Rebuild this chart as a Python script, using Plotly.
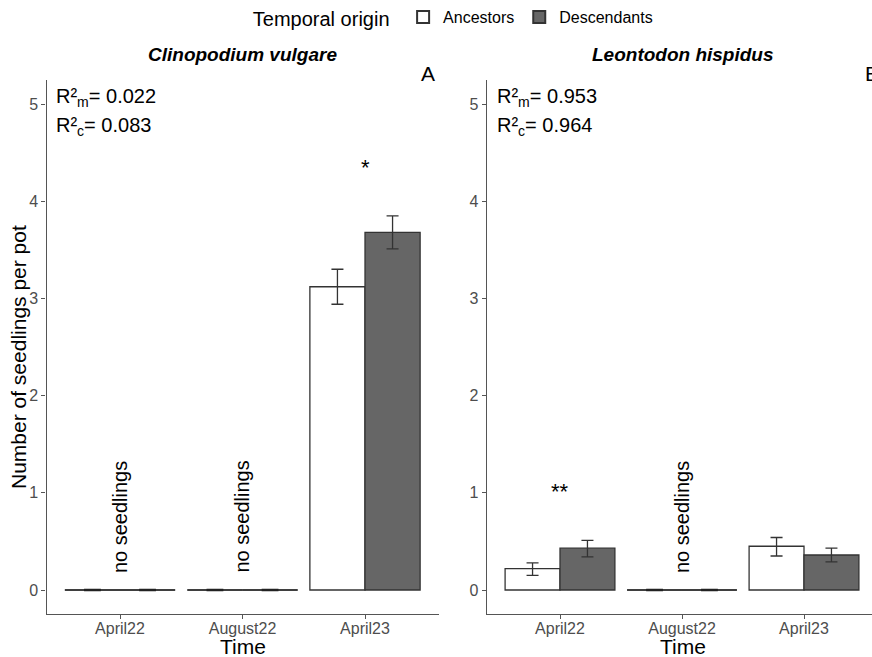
import plotly.graph_objects as go

categories = ["April22", "August22", "April23"]
cat_pos = [1, 2, 3]

# Clinopodium vulgare
clino_anc = [0.0, 0.0, 3.12]
clino_anc_hi = [0.0, 0.0, 3.30]
clino_anc_lo = [0.0, 0.0, 2.94]
clino_desc = [0.0, 0.0, 3.68]
clino_desc_hi = [0.0, 0.0, 3.85]
clino_desc_lo = [0.0, 0.0, 3.51]

# Leontodon hispidus
leon_anc = [0.22, 0.0, 0.45]
leon_anc_hi = [0.28, 0.0, 0.54]
leon_anc_lo = [0.15, 0.0, 0.35]
leon_desc = [0.43, 0.0, 0.36]
leon_desc_hi = [0.51, 0.0, 0.43]
leon_desc_lo = [0.34, 0.0, 0.29]

panel_titles = ["Clinopodium vulgare", "Leontodon hispidus"]
panel_letters = ["A", "B"]
r2m = ["0.022", "0.953"]
r2c = ["0.083", "0.964"]
signif = [{"April23": "*"}, {"April22": "**"}]
y_ticks = [0, 1, 2, 3, 4, 5]

FONT = "Liberation Sans, Arial, sans-serif"
OUTLINE = "#333333"
DESC_FILL = "#666666"
AXIS_COL = "#555555"
TICK_COL = "#4d4d4d"
BW = 0.45

fig = go.Figure()

panels = [
    ("x", "y", clino_anc, clino_anc_hi, clino_anc_lo, clino_desc, clino_desc_hi, clino_desc_lo),
    ("x2", "y2", leon_anc, leon_anc_hi, leon_anc_lo, leon_desc, leon_desc_hi, leon_desc_lo),
]

for pi, (xa, ya, anc, anc_hi, anc_lo, desc, desc_hi, desc_lo) in enumerate(panels):
    for name, vals, hi, lo, fill, off in [
        ("Ancestors", anc, anc_hi, anc_lo, "white", -BW / 2),
        ("Descendants", desc, desc_hi, desc_lo, DESC_FILL, BW / 2),
    ]:
        fig.add_trace(go.Bar(
            x=[p + off for p in cat_pos], y=vals, width=BW, name=name,
            marker=dict(color=fill, line=dict(color=OUTLINE, width=1.3)),
            error_y=dict(type="data", symmetric=False,
                         array=[h - v for h, v in zip(hi, vals)],
                         arrayminus=[v - l for v, l in zip(vals, lo)],
                         color=OUTLINE, thickness=1.3, width=6),
            showlegend=(pi == 0), legendgroup=name,
            xaxis=xa, yaxis=ya,
        ))
    # zero-height groups drawn as a baseline + no seedlings label
    for p, c, a, d in zip(cat_pos, categories, anc, desc):
        if a == 0 and d == 0:
            fig.add_trace(go.Scatter(
                x=[p - BW, p + BW], y=[0, 0], mode="lines",
                line=dict(color=OUTLINE, width=1.3), showlegend=False,
                hoverinfo="skip", xaxis=xa, yaxis=ya))
            fig.add_trace(go.Scatter(
                x=[p - BW / 2, p + BW / 2], y=[0, 0], mode="markers",
                marker=dict(symbol="line-ew", size=12,
                            line=dict(color="#222222", width=2.6)),
                showlegend=False, hoverinfo="skip", xaxis=xa, yaxis=ya))
            fig.add_annotation(
                x=p, y=0.75, xref=xa, yref=ya, text="no seedlings",
                textangle=-90, showarrow=False,
                font=dict(family=FONT, size=20, color="black"))
    for c, s in signif[pi].items():
        p = cat_pos[categories.index(c)]
        top = max(anc_hi[categories.index(c)], desc_hi[categories.index(c)])
        fig.add_annotation(
            x=p, y=top + 0.50, xref=xa, yref=ya, text=s, showarrow=False,
            font=dict(family=FONT, size=22, color="black"))

    dom = "x domain" if pi == 0 else "x2 domain"
    ydom = "y domain" if pi == 0 else "y2 domain"
    fig.add_annotation(x=0.02, y=0.966, xref=dom, yref=ydom, xanchor="left",
                       yanchor="middle", showarrow=False,
                       text=f"R\u00b2<sub>m</sub>= {r2m[pi]}",
                       font=dict(family=FONT, size=20, color="black"))
    fig.add_annotation(x=0.02, y=0.912, xref=dom, yref=ydom, xanchor="left",
                       yanchor="middle", showarrow=False,
                       text=f"R\u00b2<sub>c</sub>= {r2c[pi]}",
                       font=dict(family=FONT, size=20, color="black"))
    # x axis title
    fig.add_annotation(x=0.5 if pi == 0 else (683 - 486.8) / (872 - 486.8),
                       y=1 - 646 / 657, xref=dom, yref="paper",
                       xanchor="center", yanchor="middle", showarrow=False,
                       text="Time",
                       font=dict(family=FONT, size=21, color="black"))

# y axis title
fig.add_annotation(x=18 / 872, y=1 - 357 / 657, xref="paper", yref="paper",
                   xanchor="center", yanchor="middle",
                   textangle=-90, showarrow=False,
                   text="Number of seedlings per pot",
                   font=dict(family=FONT, size=21, color="black"))

# panel titles
fig.add_annotation(x=0.5, y=1 - 55 / 657, xref="x domain", yref="paper",
                   yanchor="middle", showarrow=False,
                   text=f"<b><i>{panel_titles[0]}</i></b>",
                   font=dict(family=FONT, size=19, color="black"))
fig.add_annotation(x=683 / 872, y=1 - 55 / 657, xref="paper", yref="paper",
                   xanchor="center", yanchor="middle", showarrow=False,
                   text=f"<b><i>{panel_titles[1]}</i></b>",
                   font=dict(family=FONT, size=19, color="black"))
fig.add_annotation(x=428 / 872, y=1 - 73 / 657, xref="paper", yref="paper",
                   xanchor="center", yanchor="middle", showarrow=False,
                   text=panel_letters[0],
                   font=dict(family=FONT, size=21, color="black"))
fig.add_annotation(x=863 / 872, y=1 - 73 / 657, xref="paper", yref="paper",
                   xanchor="left", yanchor="middle", showarrow=False,
                   text=panel_letters[1],
                   font=dict(family=FONT, size=21, color="black"))

ydom = [(657 - 614.3) / 657, (657 - 79.7) / 657]
axis_common = dict(showline=True, linecolor=AXIS_COL, linewidth=1.3,
                   ticks="outside", ticklen=4, tickcolor=AXIS_COL, tickwidth=1.1,
                   showgrid=False, zeroline=False,
                   tickfont=dict(family=FONT, size=16, color=TICK_COL))

fig.update_layout(
    width=872, height=657,
    margin=dict(l=0, r=0, t=0, b=0),
    paper_bgcolor="white", plot_bgcolor="white",
    barmode="overlay",
    font=dict(family=FONT, color="black"),
    xaxis=dict(domain=[46.5 / 872, 438.5 / 872], range=[0.4, 3.6],
               tickvals=cat_pos, ticktext=categories, ticklabelstandoff=-5,
               anchor="y", **axis_common),
    yaxis=dict(domain=ydom, range=[-0.25, 5.25], tickvals=y_ticks,
               anchor="x", **axis_common),
    xaxis2=dict(domain=[486.8 / 872, 1.0], range=[0.4, 0.4 + (872 - 486.8) / 122],
                tickvals=cat_pos, ticktext=categories, ticklabelstandoff=-5,
                anchor="y2", **axis_common),
    yaxis2=dict(domain=ydom, range=[-0.25, 5.25], tickvals=y_ticks,
                anchor="x2", **axis_common),
    legend=dict(orientation="h", x=0.521, xanchor="center", y=1 - 18 / 657,
                yanchor="middle",
                title=dict(text="Temporal origin ", side="left",
                           font=dict(family=FONT, size=20, color="black")),
                font=dict(family=FONT, size=16, color="black"),
                itemsizing="constant", traceorder="normal"),
)

fig.write_html("out.html")
